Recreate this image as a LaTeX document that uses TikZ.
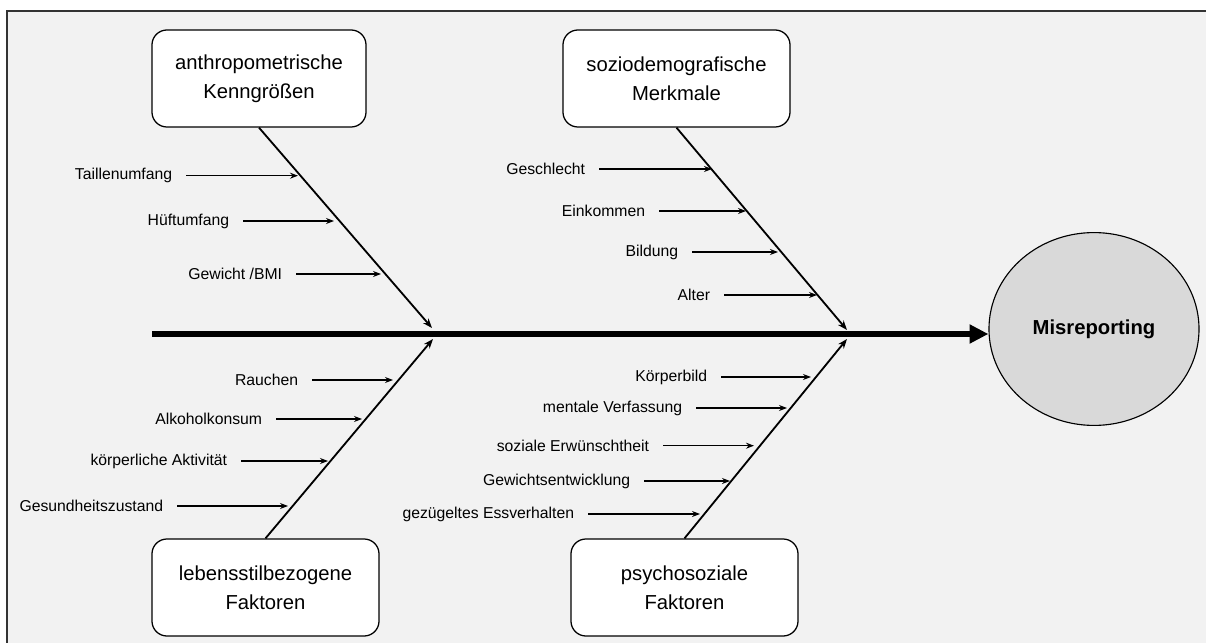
\documentclass[tikz,border=0pt]{standalone}
\usepackage{fontspec}
\setmainfont{Liberation Sans}
\usetikzlibrary{arrows.meta,shapes.geometric}
\definecolor{bgGray}{RGB}{242,242,242}
\definecolor{ellGray}{RGB}{217,217,217}

\begin{document}
\begin{tikzpicture}[x=0.025cm,y=-0.025cm,>=Stealth,every node/.style={font=\fontsize{11.2}{13}\selectfont},
  cause/.style={draw,fill=white,rounded corners=0.375cm,line width=0.9pt,minimum height=2.425cm,align=center,font=\fontsize{14.4}{20.8}\selectfont},
  lbl/.style={anchor=east,inner xsep=0.34cm,inner ysep=0pt},
  sub/.style={-{Stealth[length=0.2cm,width=0.15cm]},line width=0.9pt},
  bone/.style={-{Stealth[length=0.24cm,width=0.18cm]},line width=1.3pt}]
\useasboundingbox (0,0) rectangle (1206,643);
\fill[bgGray] (7,11) rectangle (1206,643);\draw[line width=1.4pt,black!80] (7,643)--(7,11)--(1206,11);
% Kategorien und Ergebnis
\node[cause,minimum width=5.35cm] (anthro) at (259,78.5){anthropometrische\\Kenngrößen};
\node[cause,minimum width=5.675cm] (sozio) at (676.5,78.5){soziodemografische\\Merkmale};
\node[cause,minimum width=5.675cm] (lebens) at (265.5,587.5){lebensstilbezogene\\Faktoren};
\node[cause,minimum width=5.675cm] (psycho) at (684.5,587.5){psychosoziale\\Faktoren};
\node[ellipse,draw,fill=ellGray,line width=0.8pt,minimum width=5.25cm,minimum height=4.82cm,font=\bfseries\fontsize{14.4}{17}\selectfont] (mis) at (1094,329){Misreporting};
% Hauptgraete
\coordinate (sp) at (152,334);\draw[line width=0.15cm,-{Triangle[length=0.47cm,width=0.45cm]}] (sp)--(sp -| mis.west);
\coordinate (t1) at (432,328);\coordinate (t2) at (847,330);\coordinate (t3) at (433,339);\coordinate (t4) at (847,339);
\draw[bone] (anthro.south)--(t1);\draw[bone] (sozio.south)--(t2);\draw[bone] (lebens.north)--(t3);\draw[bone] (psycho.north)--(t4);
% anthropometrische Kenngroessen
\node[lbl] (taille) at (186,175.7){Taillenumfang};\coordinate (taille-e) at (298,175.7);\draw[sub] (taille)--(taille-e);
\node[lbl] (huefte) at (243,221){Hüftumfang};\coordinate (huefte-e) at (334,221);\draw[sub] (huefte)--(huefte-e);
\node[lbl] (bmi) at (296,274){Gewicht /BMI};\coordinate (bmi-e) at (381,274);\draw[sub] (bmi)--(bmi-e);
% soziodemografische Merkmale
\node[lbl] (geschl) at (599,169){Geschlecht};\coordinate (geschl-e) at (712,169);\draw[sub] (geschl)--(geschl-e);
\node[lbl] (eink) at (659,211){Einkommen};\coordinate (eink-e) at (746,211);\draw[sub] (eink)--(eink-e);
\node[lbl] (bild) at (692,252){Bildung};\coordinate (bild-e) at (778,252);\draw[sub] (bild)--(bild-e);
\node[lbl] (alter) at (724,295){Alter};\coordinate (alter-e) at (817,295);\draw[sub] (alter)--(alter-e);
% lebensstilbezogene Faktoren
\node[lbl] (rauch) at (312,380){Rauchen};\coordinate (rauch-e) at (393,380);\draw[sub] (rauch)--(rauch-e);
\node[lbl] (alk) at (276,419){Alkoholkonsum};\coordinate (alk-e) at (362,419);\draw[sub] (alk)--(alk-e);
\node[lbl] (akt) at (241,461){körperliche Aktivität};\coordinate (akt-e) at (328,461);\draw[sub] (akt)--(akt-e);
\node[lbl] (ges) at (177,506){Gesundheitszustand};\coordinate (ges-e) at (288,506);\draw[sub] (ges)--(ges-e);
% psychosoziale Faktoren
\node[lbl] (koerp) at (721,377){Körperbild};\coordinate (koerp-e) at (811,377);\draw[sub] (koerp)--(koerp-e);
\node[lbl] (mental) at (696,408){mentale Verfassung};\coordinate (mental-e) at (787,408);\draw[sub] (mental)--(mental-e);
\node[lbl] (erw) at (663,445.7){soziale Erwünschtheit};\coordinate (erw-e) at (754,445.7);\draw[sub] (erw)--(erw-e);
\node[lbl] (gewe) at (644,481){Gewichtsentwicklung};\coordinate (gewe-e) at (730,481);\draw[sub] (gewe)--(gewe-e);
\node[lbl] (essv) at (588,514){gezügeltes Essverhalten};\coordinate (essv-e) at (700,514);\draw[sub] (essv)--(essv-e);
\end{tikzpicture}
\end{document}
